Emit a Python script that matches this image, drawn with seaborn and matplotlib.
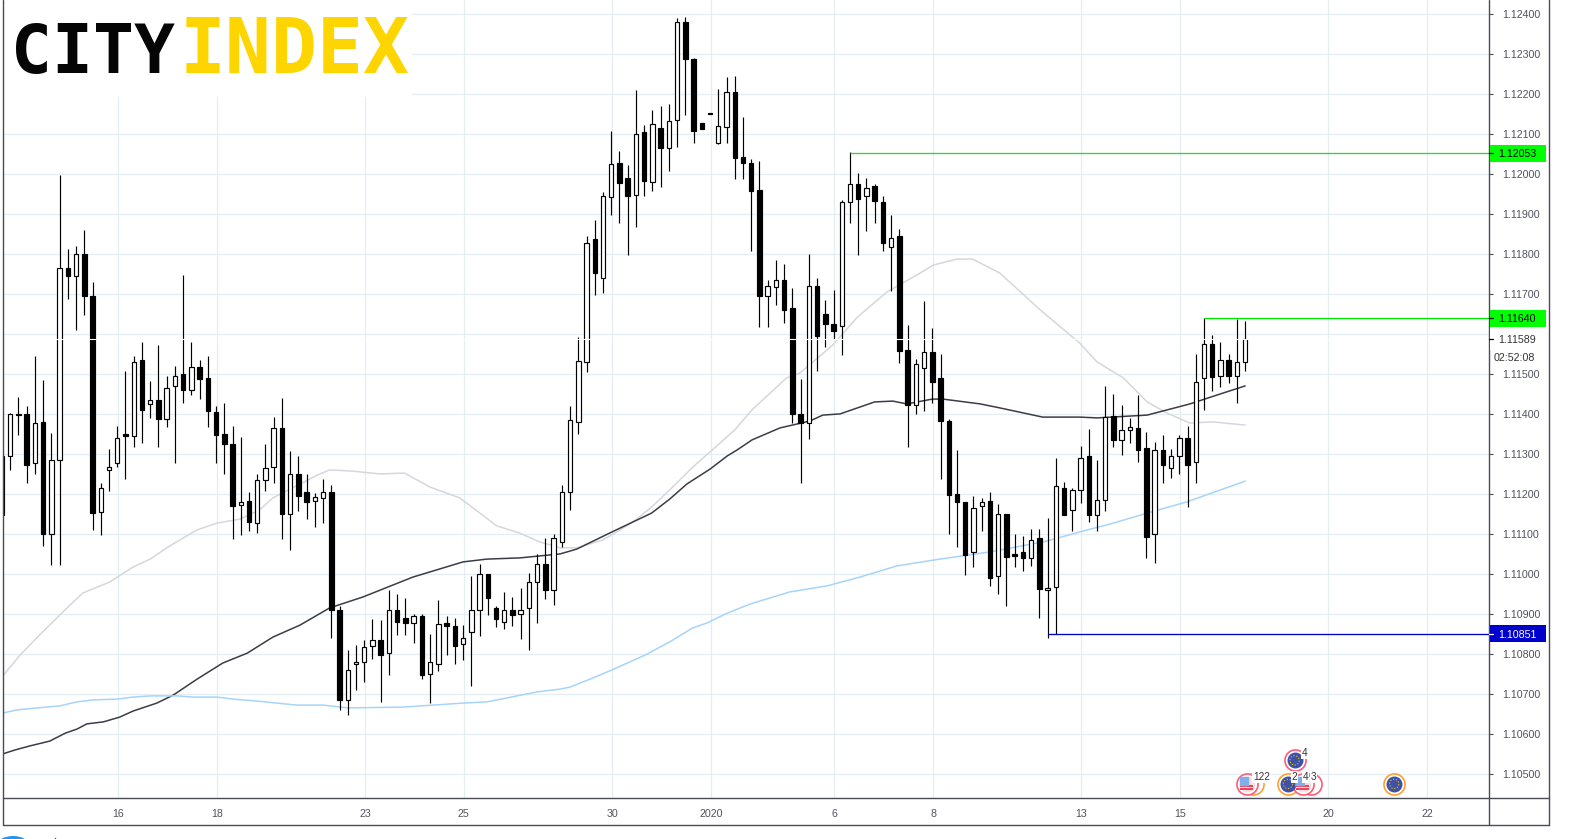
"""
EUR/USD 4h candles with three moving averages and marked price levels.
"""

from matplotlib.lines import Line2D
from matplotlib.patches import Circle, Rectangle
from matplotlib.transforms import blended_transform_factory
import matplotlib.pyplot as plt
import pandas as pd
import seaborn as sns

W, H = 1574, 839

# candle values, in 1e-5 price points
OPEN = [111148, 111295, 111400, 111400, 111278, 111382, 111102, 111285, 111767, 111745,
        111802, 111696, 111157, 111262, 111279, 111351, 111347, 111537, 111427, 111437,
        111389, 111472, 111500, 111462, 111518, 111492, 111407, 111350, 111327, 111173,
        111183, 111128, 111235, 111268, 111365, 111150, 111252, 111207, 111183, 111192,
        111207, 110912, 110687, 110777, 110782, 110822, 110835, 110803, 110910, 110890,
        110878, 110895, 110750, 110775, 110878, 110872, 110825, 110855, 110910, 111000,
        110915, 110880, 110910, 110900, 110917, 110980, 111027, 110962, 111080, 111207,
        111380, 111532, 111838, 111740, 111944, 112028, 111992, 111948, 112105, 111982,
        112117, 112067, 112135, 112380, 112287, 112128, 112153, 112079, 112118, 112207,
        112043, 112028, 111962, 111697, 111719, 111737, 111665, 111400, 111379, 111720,
        111651, 111626, 111622, 111930, 111977, 111947, 111972, 111932, 111819, 111845,
        111560, 111424, 111517, 111557, 111490, 111383, 111200, 111180, 111055, 111172,
        111183, 110995, 111151, 111051, 111057, 111040, 111090, 110962, 110969, 111215,
        111162, 111212, 111297, 111149, 111187, 111397, 111337, 111362, 111367, 111315,
        111102, 111312, 111267, 111297, 111340, 111282, 111492, 111575, 111497, 111535,
        111497, 111532]
HIGH = [111310, 111404, 111443, 111421, 111546, 111486, 111353, 111998, 111813, 111821,
        111861, 111731, 111228, 111313, 111371, 111508, 111547, 111582, 111483, 111573,
        111496, 111521, 111748, 111581, 111537, 111546, 111422, 111428, 111371, 111343,
        111206, 111251, 111326, 111393, 111442, 111308, 111296, 111251, 111203, 111238,
        111223, 110921, 110811, 110823, 110836, 110888, 110886, 110961, 110951, 110941,
        110902, 110900, 110852, 110936, 110896, 110891, 110873, 110996, 111026, 111001,
        110921, 110956, 110943, 110966, 111003, 111051, 111091, 111101, 111223, 111421,
        111593, 111845, 111886, 111956, 112108, 112058, 112023, 112211, 112123, 112161,
        112171, 112176, 112390, 112393, 112291, 112129, 112153, 112213, 112243, 112246,
        112143, 112038, 112033, 111735, 111786, 111776, 111715, 111488, 111801, 111741,
        111686, 111711, 111937, 112055, 112003, 111991, 111975, 111946, 111898, 111863,
        111623, 111538, 111683, 111616, 111551, 111388, 111311, 111181, 111196, 111191,
        111206, 111176, 111152, 111101, 111096, 111113, 111113, 111141, 111292, 111232,
        111215, 111321, 111363, 111286, 111471, 111451, 111423, 111391, 111448, 111356,
        111331, 111348, 111313, 111348, 111371, 111551, 111640, 111598, 111581, 111551,
        111638, 111633]
LOW = [110928, 111261, 111348, 111229, 111252, 111072, 111023, 111023, 111689, 111612,
       111649, 111112, 111099, 111209, 111269, 111239, 111319, 111329, 111392, 111319,
       111369, 111279, 111429, 111449, 111439, 111369, 111279, 111252, 111089, 111099,
       111109, 111104, 111209, 111229, 111089, 111062, 111159, 111139, 111119, 111129,
       110842, 110662, 110649, 110712, 110732, 110789, 110682, 110749, 110849, 110849,
       110829, 110739, 110679, 110759, 110799, 110777, 110787, 110722, 110847, 110899,
       110869, 110864, 110872, 110839, 110812, 110879, 110939, 110924, 111069, 111162,
       111350, 111506, 111699, 111703, 111899, 111879, 111799, 111869, 111947, 111959,
       111969, 112009, 112069, 112149, 112079, 112113, 112151, 112076, 112079, 111989,
       111989, 111809, 111619, 111619, 111674, 111629, 111378, 111229, 111339, 111509,
       111568, 111588, 111549, 111878, 111798, 111858, 111878, 111808, 111708, 111529,
       111319, 111402, 111409, 111429, 111239, 111102, 111069, 110999, 111019, 111109,
       110972, 110952, 110922, 111019, 111009, 111022, 110892, 110842, 110850, 111149,
       111109, 111179, 111132, 111109, 111159, 111319, 111299, 111329, 111282, 111042,
       111029, 111229, 111242, 111252, 111169, 111229, 111412, 111459, 111469, 111479,
       111429, 111509]
CLOSE = [111296, 111400, 111399, 111274, 111378, 111102, 111287, 111767, 111745, 111800,
         111697, 111154, 111217, 111269, 111340, 111347, 111532, 111412, 111437, 111389,
         111467, 111497, 111462, 111518, 111489, 111409, 111349, 111327, 111172, 111182,
         111132, 111235, 111267, 111365, 111152, 111250, 111197, 111182, 111194, 111207,
         110912, 110687, 110762, 110782, 110818, 110835, 110799, 110910, 110882, 110879,
         110895, 110749, 110780, 110875, 110872, 110822, 110842, 110910, 111000, 110942,
         110889, 110910, 110899, 110912, 110980, 111025, 110962, 111092, 111207, 111385,
         111533, 111827, 111754, 111945, 112025, 111979, 111947, 112102, 111984, 112125,
         112067, 112132, 112380, 112289, 112109, 112114, 112152, 112120, 112207, 112042,
         112029, 111959, 111697, 111720, 111735, 111662, 111402, 111378, 111720, 111597,
         111627, 111609, 111932, 111975, 111939, 111967, 111934, 111829, 111840, 111559,
         111424, 111525, 111557, 111482, 111384, 111199, 111182, 111049, 111165, 111182,
         110992, 111150, 111044, 111047, 111042, 111087, 110964, 110967, 111222, 111149,
         111212, 111290, 111149, 111185, 111394, 111337, 111362, 111369, 111312, 111094,
         111310, 111274, 111297, 111340, 111274, 111480, 111575, 111494, 111537, 111495,
         111532, 111589]

# moving averages, read at these bar positions
GRAY_BARS = [0.1, 2.2, 4.3, 7.9, 9.8, 13.1, 15.9, 18.0, 20.0, 21.6, 23.7, 26.1, 28.9, 31.3,
             32.9, 35.3, 38.3, 39.8, 42.6, 45.9, 48.9, 52.0, 55.6, 60.1, 62.9, 65.3, 67.8,
             69.8, 73.0, 75.1, 77.1, 78.9, 81.1, 83.9, 86.0, 89.0, 91.1, 92.4, 95.3, 96.9,
             100.9, 103.9, 107.5, 111.1, 113.1, 116.0, 117.9, 121.2, 126.1, 130.9, 133.0,
             136.2, 139.1, 141.5, 144.3, 147.1, 151]
GRAY_MA = [110746, 110798, 110843, 110916, 110953, 110981, 111018, 111038, 111066, 111086,
           111111, 111128, 111138, 111161, 111191, 111216, 111248, 111261, 111258, 111251,
           111253, 111218, 111191, 111121, 111103, 111081, 111066, 111066, 111086, 111111,
           111138, 111168, 111211, 111268, 111306, 111361, 111411, 111436, 111491, 111503,
           111573, 111643, 111706, 111748, 111773, 111788, 111788, 111753, 111661, 111578,
           111531, 111491, 111431, 111403, 111378, 111381, 111373]
DARK_BARS = [0.1, 1.6, 3.4, 5.8, 7.7, 9.1, 10.3, 12.3, 14.3, 15.9, 18.8, 20.8, 23.7, 26.8,
             29.8, 32.9, 36.2, 39.8, 43.8, 49.9, 56.0, 58.9, 62.9, 67.8, 69.8, 74.1, 78.9,
             81.1, 83.2, 86.0, 88.1, 89.3, 91.1, 94.5, 98.1, 99.7, 101.8, 106.0, 108.2,
             109.9, 113.0, 114.3, 118.8, 121.2, 126.4, 130.9, 133.0, 139.1, 144.3, 148.0, 151]
DARK_MA = [110551, 110561, 110571, 110583, 110603, 110613, 110626, 110631, 110643, 110658,
           110678, 110698, 110738, 110778, 110803, 110843, 110873, 110916, 110943, 110993,
           111031, 111038, 111041, 111051, 111063, 111106, 111153, 111188, 111226, 111263,
           111296, 111311, 111336, 111366, 111383, 111398, 111401, 111431, 111433, 111426,
           111438, 111438, 111426, 111416, 111393, 111393, 111391, 111398, 111426, 111451,
           111471]
BLUE_BARS = [0.1, 1.8, 4.3, 7.0, 9.1, 11.1, 14.0, 15.9, 18.0, 21.3, 23.2, 26.1, 28.1, 31.0,
             35.8, 39.0, 42.0, 48.7, 56.0, 58.9, 65.0, 67.8, 69.0, 71.8, 74.1, 78.1, 81.1,
             83.9, 85.6, 88.1, 90.9, 95.7, 100.2, 104.2, 108.7, 113.9, 120.0, 126.9, 130.9,
             135.0, 139.1, 143.9, 151]
BLUE_MA = [110653, 110661, 110666, 110671, 110681, 110686, 110688, 110693, 110696, 110696,
           110693, 110693, 110688, 110683, 110673, 110673, 110666, 110668, 110678, 110681,
           110706, 110713, 110718, 110741, 110761, 110798, 110831, 110866, 110878, 110903,
           110926, 110956, 110971, 110993, 111021, 111038, 111056, 111083, 111106, 111128,
           111153, 111181, 111233]

# horizontal levels: price, first bar, line colour, label colour, label text colour
LEVELS = [(1.12053, 103, '#2fd62f', '#00ff00', 'black'),
          (1.11640, 146, '#00e600', '#00ff00', 'black'),
          (1.10851, 127, '#0000cc', '#0000cc', 'white')]
LAST_PRICE = 1.11589
COUNTDOWN = '02:52:08'

TICK_BARS = [14.1, 26.1, 44.1, 56.1, 74.1, 86.1, 101.1, 113.1, 131.1, 143.1, 161.1, 173.1]
TICK_LABELS = ['16', '18', '23', '25', '30', '2020', '6', '8', '13', '15', '20', '22']
PRICE_TICKS = [1.105 + 0.001 * k for k in range(20)]

# calendar events: bar, price, ring colour, label
EVENTS_EU = [(156.2, 1.10476, '#ff9f33'), (157.0, 1.10535, '#ff5a7a'), (169.1, 1.10476, '#ff9f33')]
EVENTS_US = [(151.2, 1.10476, '#ff5a7a'), (158.0, 1.10476, '#ff5a7a')]
EVENT_TEXT = [(153.0, 1.10493, '122'), (157.0, 1.10493, '2'), (158.3, 1.10493, '4'),
              (159.3, 1.10493, '3'), (158.2, 1.10553, '4')]
EXTRA_RINGS = [(152.0, 1.10476, '#ff9f33'), (159.0, 1.10476, '#ff5a7a')]

LOGO_DARK, LOGO_YELLOW = 'CITY', 'INDEX'

AXIS_COLOR = '#4a4c55'
TEXT_COLOR = '#50535e'
GRID_COLOR = '#e4edf4'


def fx(px):
    return px / W


def fy(px):
    return 1 - px / H


def frame_line(fig, x0, y0, x1, y1):
    fig.add_artist(Line2D([fx(x0), fx(x1)], [fy(y0), fy(y1)], color=AXIS_COLOR, lw=1.0, zorder=4))


def draw_candles(ax):
    df = pd.DataFrame({'bar': range(len(OPEN)), 'open': OPEN, 'high': HIGH, 'low': LOW, 'close': CLOSE})
    df[['open', 'high', 'low', 'close']] /= 1e5
    ax.vlines(df['bar'], df['low'], df['high'], color='black', lw=0.85, zorder=3)
    bottoms = df[['open', 'close']].min(axis=1)
    heights = (df['close'] - df['open']).abs()
    colors = ['white' if c > o else 'black' for o, c in zip(df['open'], df['close'])]
    ax.bar(df['bar'], heights, bottom=bottoms, width=0.54, color=colors, edgecolor='black', lw=0.85, zorder=4)


def draw_averages(ax):
    frames = []
    for name, bars, vals in [('gray', GRAY_BARS, GRAY_MA), ('dark', DARK_BARS, DARK_MA), ('blue', BLUE_BARS, BLUE_MA)]:
        frames.append(pd.DataFrame({'bar': bars, 'price': [v / 1e5 for v in vals], 'ma': name}))
    sns.lineplot(data=pd.concat(frames), x='bar', y='price', hue='ma', ax=ax, legend=False, errorbar=None,
                 palette={'gray': '#d6d6de', 'dark': '#3c3c46', 'blue': '#a6d4fb'}, lw=1.1, zorder=2)


def draw_events(ax):
    for bar, price, ring in EXTRA_RINGS + EVENTS_EU + EVENTS_US:
        ax.scatter(bar, price, s=230, facecolor='white', edgecolor=ring, lw=1.2, zorder=5, clip_on=False)
    for bar, price, _ in EVENTS_EU:
        ax.scatter(bar, price, s=110, color='#3f51a3', zorder=6)
        ax.scatter(bar, price, s=45, facecolor='none', edgecolor='#e8c53a', lw=0.8, linestyle=':', zorder=7)
    for bar, price, _ in EVENTS_US:
        ax.scatter(bar, price, s=110, color='#f9dfe2', zorder=6)
        ax.hlines([price - 0.00004, price - 0.00013], bar - 0.8, bar + 0.8, color='#ef3e55', lw=1.4, zorder=7)
        ax.scatter(bar - 0.4, price + 0.00007, s=32, marker='s', color='#7fb0ec', zorder=8)
    for bar, price, label in EVENT_TEXT:
        ax.text(bar, price, label, fontsize=7.2, color='#333333', ha='center', va='center', zorder=9,
                bbox=dict(facecolor='white', edgecolor='none', pad=0.6))


def draw_price_panel(fig, ax):
    trans = blended_transform_factory(fig.transFigure, ax.transData)
    box_h = 17 / 40000
    fig.add_artist(Rectangle((fx(1490), LAST_PRICE - 0.00028), fx(58), 0.00056, transform=trans,
                             facecolor='white', edgecolor='none', zorder=5))
    fig.add_artist(Line2D([fx(1489), fx(1493)], [LAST_PRICE, LAST_PRICE], transform=trans, color='black', lw=0.9, zorder=6))
    fig.text(fx(1498), LAST_PRICE, f'{LAST_PRICE:.5f}', transform=trans, fontsize=7.7, color='#333333', va='center_baseline', zorder=6)
    fig.text(fx(1494), LAST_PRICE - 0.00045, COUNTDOWN, transform=trans, fontsize=7.7, color='#333333', va='center_baseline', zorder=6)
    for price, _, _, box, txt in LEVELS:
        fig.add_artist(Rectangle((fx(1489.5), price - box_h / 2), fx(56), box_h, transform=trans,
                                 facecolor=box, edgecolor='none', zorder=5))
        fig.add_artist(Line2D([fx(1489), fx(1493)], [price, price], transform=trans, color=txt, lw=0.9, zorder=6))
        fig.text(fx(1498), price, f'{price:.5f}', transform=trans, fontsize=7.7, color=txt, va='center_baseline', zorder=6)


def draw_logo(fig):
    fig.add_artist(Rectangle((fx(4), fy(97)), fx(408), 97 / H, facecolor='white', edgecolor='none', zorder=2))
    mono = dict(family='DejaVu Sans Mono', weight='bold', va='baseline', zorder=3)
    fig.text(fx(11), fy(73), LOGO_DARK, fontsize=49, color='#050505', **mono)
    fig.text(fx(180), fy(73), LOGO_YELLOW, fontsize=55, color='#ffd500', **mono)


def main():
    sns.set_theme(style='white')
    plt.rcParams['font.family'] = ['Liberation Sans', 'DejaVu Sans']

    fig = plt.figure(figsize=(W / 100, H / 100), dpi=100, facecolor='white')
    ax = fig.add_axes([fx(2.7), fy(798.3), fx(1489.3 - 2.7), 798.3 / H])

    for spine in ax.spines.values():
        spine.set_visible(False)

    ax.set_xlim((2.7 - 2) / 8.233, (1489.3 - 2) / 8.233)
    ax.set_ylim(1.10440, 1.1243575)
    ax.grid(True, color=GRID_COLOR, lw=0.9, zorder=0)
    ax.set_axisbelow(True)

    ax.set_xticks(TICK_BARS)
    ax.set_xticklabels(TICK_LABELS)
    ax.yaxis.tick_right()
    ax.set_yticks(PRICE_TICKS)
    ax.set_yticklabels(['' if abs(p - 1.116) < 1e-6 else f'{p:.5f}' for p in PRICE_TICKS])
    ax.tick_params(axis='x', length=3, width=0.8, color=AXIS_COLOR, labelcolor=TEXT_COLOR, labelsize=7.7, pad=5)
    ax.tick_params(axis='y', length=3, width=0.8, color=AXIS_COLOR, labelcolor=TEXT_COLOR, labelsize=7.7, pad=6)
    ax.set_xlabel('')
    ax.set_ylabel('')

    draw_averages(ax)
    draw_candles(ax)

    for price, first_bar, line_color, _, _ in LEVELS:
        ax.hlines(price, first_bar, ax.get_xlim()[1], color=line_color, lw=0.95, zorder=5)
    ax.axhline(LAST_PRICE, color='white', lw=0.8, zorder=4.5)

    draw_events(ax)
    ax.set_xlabel('')
    ax.set_ylabel('')

    # chart frame
    frame_line(fig, 2.7, 0, 2.7, 825)
    frame_line(fig, 1489.3, 0, 1489.3, 825)
    frame_line(fig, 1549.3, 0, 1549.3, 825)
    frame_line(fig, 2.7, 798.3, 1549.3, 798.3)
    frame_line(fig, 2.7, 825, 1549.3, 825)

    draw_price_panel(fig, ax)
    draw_logo(fig)

    # edge of the toolbar icons below the frame
    fig.add_artist(Circle((fx(13), fy(844)), 8 / H, facecolor='#2196f3', edgecolor='none',
                          transform=fig.transFigure + plt.matplotlib.transforms.Affine2D()))
    frame_line(fig, 55, 837.5, 55, 839)

    fig.savefig('out.png', dpi=100)
    plt.close(fig)


if __name__ == "__main__":
    main()
